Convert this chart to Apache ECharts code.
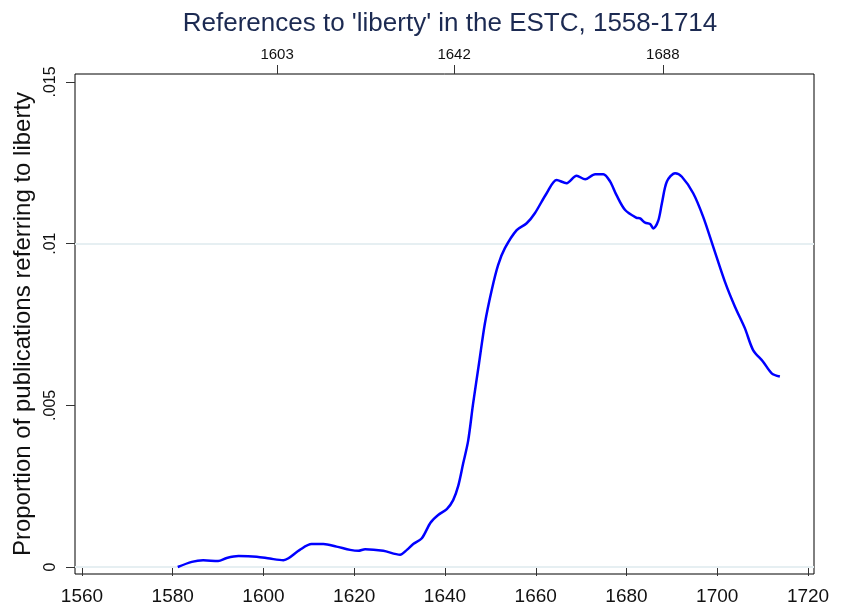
<!DOCTYPE html>
<html>
<head>
<meta charset="utf-8">
<title>References to 'liberty' in the ESTC</title>
<script src="https://cdn.jsdelivr.net/npm/echarts@6/dist/echarts.min.js"></script>
<style>
  html, body { margin: 0; padding: 0; background: #fff; }
  #chart { width: 850px; height: 615px; }
</style>
</head>
<body>
<div id="chart"></div>
<script>
// smoothed share of ESTC titles mentioning 'liberty'
const years = [
  1581.1, 1584.2, 1586.7, 1590.0, 1591.9, 1594.5, 1598.5, 1601.4, 1604.4, 1605.5,
  1608.0, 1610.6, 1613.2, 1616.1, 1619.1, 1620.9, 1622.4, 1626.4, 1630.1, 1631.6,
  1633.0, 1634.9, 1636.8, 1638.5, 1640.4, 1641.8, 1642.9, 1644.0, 1645.1, 1646.2,
  1647.5, 1648.8, 1650.3, 1651.7, 1653.2, 1655.8, 1658.0, 1659.8, 1662.4, 1664.6,
  1666.8, 1669.0, 1670.9, 1673.1, 1674.9, 1676.4, 1677.8, 1679.7, 1682.2, 1683.0,
  1684.1, 1685.2, 1685.9, 1687.0, 1687.8, 1688.9, 1690.7, 1692.2, 1694.7, 1696.9,
  1699.1, 1701.7, 1703.9, 1706.1, 1707.9, 1710.1, 1712.0, 1713.8
];
const liberty = [
  0.00000, 0.00016, 0.00021, 0.000185, 0.00028, 0.00034, 0.00032, 0.00026, 0.00021, 0.00027,
  0.00053, 0.00071, 0.00071, 0.00063, 0.00053, 0.00050, 0.00055, 0.00050, 0.00038, 0.00053,
  0.00071, 0.00089, 0.00137, 0.00161, 0.00179, 0.00207, 0.00250, 0.00320, 0.00390, 0.00506,
  0.00630, 0.00754, 0.00857, 0.00934, 0.00986, 0.01042, 0.01063, 0.01094, 0.01156, 0.01197,
  0.01187, 0.01210, 0.01199, 0.01215, 0.01215, 0.01192, 0.01150, 0.01104, 0.01080, 0.01078,
  0.01065, 0.01061, 0.01047, 0.01071, 0.01125, 0.01192, 0.01218, 0.01207, 0.01156, 0.01083,
  0.00991, 0.00882, 0.00805, 0.00738, 0.00671, 0.00635, 0.00599, 0.00589
];
const bottomTicks = [1560, 1580, 1600, 1620, 1640, 1660, 1680, 1700, 1720];
const topTicks = [1603, 1642, 1688];
const yTicks = [0, 0.005, 0.01, 0.015];

const font = "Liberation Sans, Arial, sans-serif";
const chart = echarts.init(document.getElementById("chart"));

const xMin = 1558.46, xMax = 1721.32;

chart.setOption({
  animation: false,
  backgroundColor: "#fff",
  title: {
    text: "References to 'liberty' in the ESTC, 1558-1714",
    left: 445,
    textAlign: "center",
    top: 6,
    textStyle: { color: "#1c2a52", fontSize: 26, fontWeight: "normal", fontFamily: font },
  },
  grid: {
    left: 75,
    right: 36,
    top: 74,
    bottom: 41,
    show: true,
    borderColor: "#000",
    borderWidth: 1,
  },
  xAxis: [
    {
      type: "value",
      position: "bottom",
      min: xMin,
      max: xMax,
      axisLine: { show: false },
      axisTick: { show: true, length: 9, customValues: bottomTicks, lineStyle: { color: "#333" } },
      axisLabel: {
        customValues: bottomTicks,
        margin: 13,
        fontSize: 19,
        color: "#111",
        fontFamily: font,
        formatter: (v) => String(v),
      },
      splitLine: { show: false },
    },
    {
      type: "value",
      position: "top",
      min: xMin,
      max: xMax,
      axisLine: { show: false },
      axisTick: { show: true, length: 9, customValues: topTicks, lineStyle: { color: "#333" } },
      axisLabel: {
        customValues: topTicks,
        margin: 12,
        fontSize: 15,
        color: "#111",
        fontFamily: font,
        formatter: (v) => String(v),
      },
      splitLine: { show: false },
    },
  ],
  yAxis: {
    type: "value",
    min: -0.000216,
    max: 0.015247,
    name: "Proportion of publications referring to liberty",
    nameLocation: "middle",
    nameRotate: 90,
    nameGap: 28,
    nameTextStyle: { fontSize: 24, color: "#111", fontFamily: font },
    axisLine: { show: false },
    axisTick: { show: true, length: 9, customValues: yTicks, lineStyle: { color: "#333" } },
    axisLabel: {
      customValues: yTicks,
      rotate: 90,
      margin: 16,
      fontSize: 16,
      color: "#111",
      fontFamily: font,
      formatter: (v) => (v === 0 ? "0" : String(+v.toFixed(3)).replace(/^0\./, ".")),
    },
    splitLine: { show: false },
  },
  series: [
    {
      type: "line",
      data: years.map((y, i) => [y, liberty[i]]),
      showSymbol: false,
      smooth: 0.3,
      lineStyle: { color: "#0000ff", width: 2.5 },
      markLine: {
        silent: true,
        symbol: "none",
        label: { show: false },
        lineStyle: { color: "#e6eff2", width: 2, type: "solid" },
        data: yTicks.map((t) => ({ yAxis: t })),
        z: 1,
      },
    },
  ],
});
</script>
</body>
</html>
